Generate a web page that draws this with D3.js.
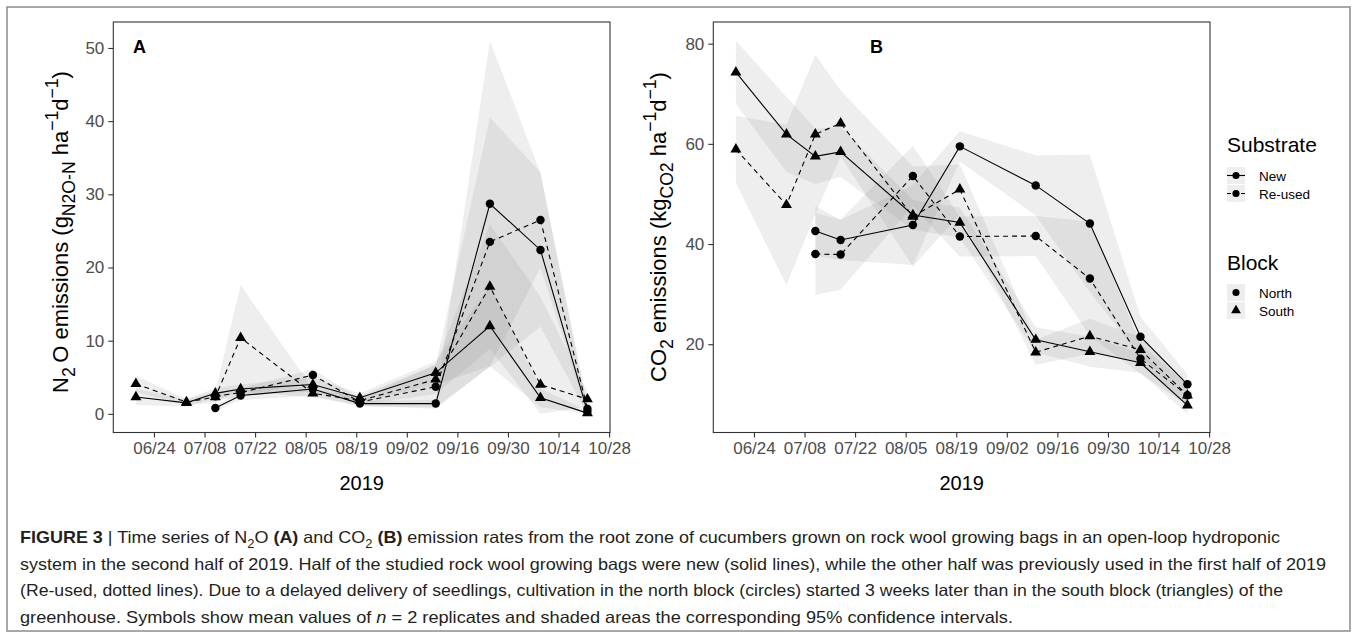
<!DOCTYPE html>
<html>
<head>
<meta charset="utf-8">
<script src="https://cdn.jsdelivr.net/npm/d3@7"></script>
<style>
  body { margin: 0; background: #fff; }
  svg { display: block; font-family: "Liberation Sans", Arial, Helvetica, sans-serif; }
</style>
</head>
<body>
<svg id="fig" width="1357" height="635"></svg>
<script>
'use strict';

// sampling dates (south block started 3 weeks earlier than north block)
var southDates = ["2019-06-19", "2019-07-03", "2019-07-11", "2019-07-18", "2019-08-07",
                  "2019-08-20", "2019-09-10", "2019-09-25", "2019-10-09", "2019-10-22"];
var northDates = southDates.slice(2);

// x ticks, every 2 weeks
var xTickLabels = ["06/24", "07/08", "07/22", "08/05", "08/19", "09/02", "09/16", "09/30", "10/14", "10/28"];

// panel A : N2O (g N2O-N / ha / d), means and half width of the 95% CI
var n2oNewNorth = [0.8, 2.5, 3.4, 1.4, 1.4, 28.7, 22.4, 0.3];
var n2oNewNorthCI = [0.4, 0.6, 0.9, 0.4, 0.5, 22.3, 10.5, 0.4];
var n2oReusedNorth = [2.4, 2.9, 5.3, 1.6, 3.7, 23.5, 26.5, 0.7];
var n2oReusedNorthCI = [0.5, 0.6, 0.8, 0.5, 3.0, 17.0, 6.5, 0.6];
var n2oNewSouth = [2.3, 1.5, 2.8, 3.4, 4.0, 2.2, 5.6, 12.0, 2.2, 0.1];
var n2oNewSouthCI = [1.1, 0.5, 0.7, 0.6, 1.0, 0.6, 1.6, 5.5, 1.3, 0.3];
var n2oReusedSouth = [4.1, 1.6, 2.3, 10.4, 2.8, 1.8, 4.7, 17.4, 4.0, 2.0];
var n2oReusedSouthCI = [1.1, 0.4, 0.8, 7.2, 0.6, 0.6, 2.0, 8.5, 12.0, 1.0];
var n2oTicks = [0, 10, 20, 30, 40, 50];

// panel B : CO2 (kg CO2 / ha / d)
var co2NewNorth = [42.6, 40.8, 43.8, 59.5, 51.7, 44.1, 21.5, 12.0];
var co2NewNorthCI = [5.0, 4.0, 8.0, 3.0, 6.0, 13.7, 4.0, 2.0];
var co2ReusedNorth = [38.0, 37.9, 53.6, 41.5, 41.6, 33.1, 17.1, 9.8];
var co2ReusedNorthCI = [8.2, 7.0, 6.0, 4.0, 4.0, 11.4, 3.0, 2.0];
var co2NewSouth = [74.3, 61.9, 57.5, 58.4, 45.8, 44.3, 20.9, 18.5, 16.3, 7.8];
var co2NewSouthCI = [6.3, 7.5, 5.5, 5.0, 3.0, 3.0, 2.5, 3.0, 2.0, 1.7];
var co2ReusedSouth = [58.9, 47.8, 61.9, 64.1, 45.5, 50.9, 18.4, 21.6, 18.9, 9.8];
var co2ReusedSouthCI = [6.7, 16.0, 15.9, 6.6, 10.0, 5.0, 2.5, 3.5, 2.5, 2.0];
var co2Ticks = [20, 40, 60, 80];

var substrates = ["New", "Re-used"];
var blocks = ["North", "South"];

var parseDate = d3.timeParse("%Y-%m-%d");
var parseTick = d3.timeParse("%Y/%m/%d");
var tickDates = xTickLabels.map(function (t) { return parseTick("2019/" + t); });

var ribbonFill = "#8a8a8a", ribbonAlpha = 0.14;
var inkTick = "#333333", inkLabel = "#4d4d4d";

function makeSeries(substrate, block, dates, mean, ci) {
  return {
    substrate: substrate, block: block,
    values: dates.map(function (d, i) {
      return { date: parseDate(d), v: mean[i], lo: Math.max(0, mean[i] - ci[i]), hi: mean[i] + ci[i] };
    })
  };
}

var seriesA = [
  makeSeries("New", "North", northDates, n2oNewNorth, n2oNewNorthCI),
  makeSeries("Re-used", "North", northDates, n2oReusedNorth, n2oReusedNorthCI),
  makeSeries("New", "South", southDates, n2oNewSouth, n2oNewSouthCI),
  makeSeries("Re-used", "South", southDates, n2oReusedSouth, n2oReusedSouthCI)
];
var seriesB = [
  makeSeries("New", "North", northDates, co2NewNorth, co2NewNorthCI),
  makeSeries("Re-used", "North", northDates, co2ReusedNorth, co2ReusedNorthCI),
  makeSeries("New", "South", southDates, co2NewSouth, co2NewSouthCI),
  makeSeries("Re-used", "South", southDates, co2ReusedSouth, co2ReusedSouthCI)
];

// ggplot style 5% expansion
function expand(ext) {
  var a = +ext[0], b = +ext[1], d = (b - a) * 0.05;
  return [a - d, b + d];
}

var svg = d3.select("#fig");
svg.append("rect").attr("width", 1357).attr("height", 635).attr("fill", "#fff");
// outer frame of the figure
svg.append("rect").attr("x", 7).attr("y", 7).attr("width", 1343).attr("height", 624)
  .attr("fill", "none").attr("stroke", "#8c8c8c").attr("stroke-width", 1.5);

// rich text helper: segments {t, sub, sup, b, i}
function richText(sel, segs, size, small) {
  var shift = 0;
  small = small || 0.72;
  segs.forEach(function (s) {
    var target = 0, fs = size;
    if (s.sub) { target = 0.3 * size; fs = size * small; }
    if (s.sup) { target = -0.45 * size; fs = size * small; }
    var ts = sel.append("tspan").text(s.t).attr("font-size", fs)
      .attr("dy", target - shift);
    if (s.b) ts.attr("font-weight", "bold");
    if (s.i) ts.attr("font-style", "italic");
    shift = target;
  });
}

function symbolPath(block, size) {
  return d3.symbol().type(block === "North" ? d3.symbolCircle : d3.symbolTriangle).size(size)();
}

function drawPanel(frame, series, yTicks, letter, yTitle, id) {
  var allDates = [];
  var lows = [], highs = [];
  series.forEach(function (s) {
    s.values.forEach(function (d) { allDates.push(d.date); lows.push(d.lo); highs.push(d.hi); });
  });
  var xd = expand(d3.extent(allDates));
  var x = d3.scaleTime().domain([new Date(xd[0]), new Date(xd[1])]).range([frame.x0, frame.x1]);
  var y = d3.scaleLinear().domain(expand([d3.min(lows), d3.max(highs)])).range([frame.y1, frame.y0]);

  var g = svg.append("g");
  g.append("clipPath").attr("id", "clip" + id).append("rect")
    .attr("x", frame.x0).attr("y", frame.y0)
    .attr("width", frame.x1 - frame.x0).attr("height", frame.y1 - frame.y0);
  var plot = g.append("g").attr("clip-path", "url(#clip" + id + ")");

  var area = d3.area().x(function (d) { return x(d.date); })
    .y0(function (d) { return y(d.lo); }).y1(function (d) { return y(d.hi); });
  var line = d3.line().x(function (d) { return x(d.date); }).y(function (d) { return y(d.v); });

  plot.selectAll("path.ribbon").data(series).join("path").attr("class", "ribbon")
    .attr("d", function (s) { return area(s.values); })
    .attr("fill", ribbonFill).attr("fill-opacity", ribbonAlpha);

  plot.selectAll("path.line").data(series).join("path").attr("class", "line")
    .attr("d", function (s) { return line(s.values); })
    .attr("fill", "none").attr("stroke", "#000").attr("stroke-width", 1.1)
    .attr("stroke-dasharray", function (s) { return s.substrate === "New" ? null : "5,4"; });

  series.forEach(function (s) {
    plot.selectAll(null).data(s.values).join("path")
      .attr("transform", function (d) { return "translate(" + x(d.date) + "," + y(d.v) + ")"; })
      .attr("d", symbolPath(s.block, s.block === "North" ? 56 : 52))
      .attr("fill", "#000");
  });

  // axes
  var xa = g.append("g").attr("transform", "translate(0," + frame.y1 + ")")
    .call(d3.axisBottom(x).tickValues(tickDates).tickFormat(d3.timeFormat("%m/%d")).tickSize(5).tickPadding(4));
  var ya = g.append("g").attr("transform", "translate(" + frame.x0 + ",0)")
    .call(d3.axisLeft(y).tickValues(yTicks).tickSize(5).tickPadding(4));
  [xa, ya].forEach(function (a) {
    a.select(".domain").remove();
    a.attr("font-family", null).attr("font-size", 17);
    a.selectAll(".tick line").attr("stroke", inkTick).attr("stroke-width", 1.1);
    a.selectAll(".tick text").attr("fill", inkLabel);
  });

  g.append("rect").attr("x", frame.x0).attr("y", frame.y0)
    .attr("width", frame.x1 - frame.x0).attr("height", frame.y1 - frame.y0)
    .attr("fill", "none").attr("stroke", inkTick).attr("stroke-width", 1.1);

  g.append("text").attr("x", frame.letterX).attr("y", 53).attr("font-size", 18)
    .attr("font-weight", "bold").text(letter);

  g.append("text").attr("x", (frame.x0 + frame.x1) / 2).attr("y", 490)
    .attr("text-anchor", "middle").attr("font-size", 20).text("2019");

  var yt = g.append("text").attr("text-anchor", "middle").attr("font-size", 22)
    .attr("transform", "translate(" + frame.titleX + "," + frame.titleY + ") rotate(-90)");
  richText(yt, yTitle, 22, 0.8);
}

drawPanel({ x0: 113.3, x1: 610, y0: 22, y1: 432.5, letterX: 133, titleX: 68, titleY: 232 }, seriesA, n2oTicks, "A", [
  { t: "N" }, { t: "2", sub: 1 }, { t: "\u2009O emissions (g" }, { t: "N2O-N", sub: 1 },
  { t: " ha" }, { t: "\u22121", sup: 1 }, { t: "d" }, { t: "\u22121", sup: 1 }, { t: ")" }
], "A");

drawPanel({ x0: 713.3, x1: 1210, y0: 22, y1: 432.5, letterX: 870, titleX: 666, titleY: 227 }, seriesB, co2Ticks, "B", [
  { t: "CO" }, { t: "2", sub: 1 }, { t: " emissions (kg" }, { t: "CO2", sub: 1 },
  { t: " ha" }, { t: "\u22121", sup: 1 }, { t: "d" }, { t: "\u22121", sup: 1 }, { t: ")" }
], "B");

// legend
var leg = svg.append("g");
var lx = 1227, kw = 18, kh = 17;
function legendTitle(text, y) {
  leg.append("text").attr("x", lx).attr("y", y).attr("font-size", 21).text(text);
}
function legendKey(y, label, drawFn) {
  leg.append("rect").attr("x", lx).attr("y", y).attr("width", kw).attr("height", kh)
    .attr("fill", ribbonFill).attr("fill-opacity", ribbonAlpha);
  drawFn(y + kh / 2);
  leg.append("text").attr("x", lx + 32).attr("y", y + kh / 2 + 5).attr("font-size", 13.5).text(label);
}
legendTitle("Substrate", 152);
substrates.forEach(function (s, i) {
  legendKey(167 + i * 18, s, function (cy) {
    leg.append("line").attr("x1", lx).attr("x2", lx + kw).attr("y1", cy).attr("y2", cy)
      .attr("stroke", "#000").attr("stroke-width", 1.1)
      .attr("stroke-dasharray", s === "New" ? null : "4,3");
    leg.append("path").attr("transform", "translate(" + (lx + kw / 2) + "," + cy + ")")
      .attr("d", symbolPath("North", 40)).attr("fill", "#000");
  });
});
legendTitle("Block", 270);
blocks.forEach(function (b, i) {
  legendKey(284 + i * 18, b, function (cy) {
    leg.append("path").attr("transform", "translate(" + (lx + kw / 2) + "," + cy + ")")
      .attr("d", symbolPath(b, b === "North" ? 40 : 42)).attr("fill", "#000");
  });
});

// caption
var captionLines = [
  [{ t: "FIGURE 3", b: 1 }, { t: " | Time series of N" }, { t: "2", sub: 1 }, { t: "O " }, { t: "(A)", b: 1 },
   { t: " and CO" }, { t: "2", sub: 1 }, { t: " " }, { t: "(B)", b: 1 },
   { t: " emission rates from the root zone of cucumbers grown on rock wool growing bags in an open-loop hydroponic" }],
  [{ t: "system in the second half of 2019. Half of the studied rock wool growing bags were new (solid lines), while the other half was previously used in the first half of 2019" }],
  [{ t: "(Re-used, dotted lines). Due to a delayed delivery of seedlings, cultivation in the north block (circles) started 3 weeks later than in the south block (triangles) of the" }],
  [{ t: "greenhouse. Symbols show mean values of " }, { t: "n", i: 1 },
   { t: " = 2 replicates and shaded areas the corresponding 95% confidence intervals." }]
];
var captionWidths = [1260, 1306, 1263, 993];
captionLines.forEach(function (segs, i) {
  var t = svg.append("text").attr("x", 20).attr("y", 543 + i * 26.7)
    .attr("font-family", "'Liberation Sans Narrow', 'Liberation Sans', Arial, sans-serif")
    .attr("fill", "#231f20").attr("font-size", 16.5)
    .attr("textLength", captionWidths[i]).attr("lengthAdjust", "spacingAndGlyphs");
  richText(t, segs, 16.5);
});
</script>
</body>
</html>
